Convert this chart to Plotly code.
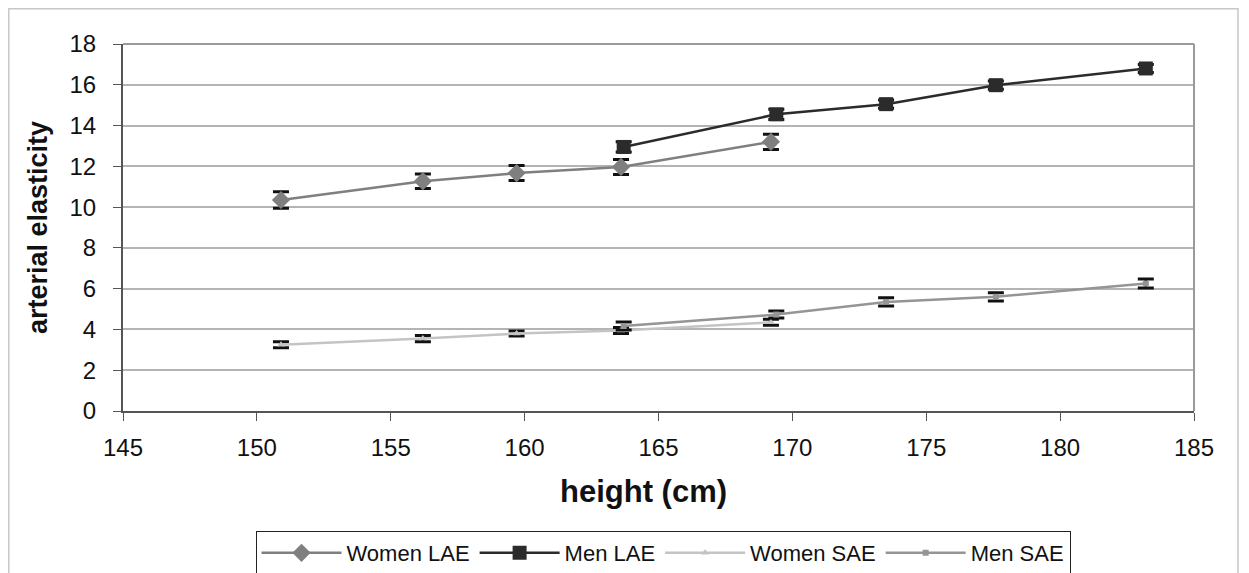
import plotly.graph_objects as go

# ---- data ----
women_h = [150.9, 156.2, 159.7, 163.6, 169.2]
men_h = [163.7, 169.4, 173.5, 177.6, 183.2]

women_lae = [10.35, 11.27, 11.67, 11.97, 13.2]
women_lae_err = [0.4, 0.36, 0.37, 0.37, 0.37]
men_lae = [12.95, 14.55, 15.05, 15.98, 16.8]
men_lae_err = [0.25, 0.25, 0.2, 0.2, 0.2]

women_sae = [3.25, 3.55, 3.8, 3.95, 4.35]
women_sae_err = [0.15, 0.15, 0.12, 0.15, 0.15]
men_sae = [4.17, 4.73, 5.35, 5.6, 6.25]
men_sae_err = [0.2, 0.17, 0.2, 0.2, 0.22]

x_ticks = [145, 150, 155, 160, 165, 170, 175, 180, 185]
y_ticks = [0, 2, 4, 6, 8, 10, 12, 14, 16, 18]

x_title = "height (cm)"
y_title = "arterial elasticity"

FONT = "Liberation Sans, Arial, sans-serif"

# the page has an 8px body margin, so the figure is 8px smaller
W, H = 1241, 565
ML, MR, MT, MB = 115, 55, 36, 162
PW, PH = W - ML - MR, H - MT - MB


def err(arr):
    return dict(type="data", array=arr, visible=True, color="#111111",
                thickness=3, width=8)


fig = go.Figure()
fig.add_trace(go.Scatter(
    x=women_h, y=women_lae, name="Women LAE", mode="lines+markers",
    line=dict(color="#7f7f7f", width=2.5),
    marker=dict(symbol="diamond", size=14, color="#7f7f7f"),
    error_y=err(women_lae_err)))
fig.add_trace(go.Scatter(
    x=men_h, y=men_lae, name="Men LAE", mode="lines+markers",
    line=dict(color="#2b2b2b", width=2.5),
    marker=dict(symbol="square", size=14, color="#2b2b2b"),
    error_y=err(men_lae_err)))
fig.add_trace(go.Scatter(
    x=women_h, y=women_sae, name="Women SAE", mode="lines+markers",
    line=dict(color="#c4c4c4", width=2.5),
    marker=dict(symbol="triangle-up", size=7, color="#c4c4c4"),
    error_y=err(women_sae_err)))
fig.add_trace(go.Scatter(
    x=men_h, y=men_sae, name="Men SAE", mode="lines+markers",
    line=dict(color="#959595", width=2.5),
    marker=dict(symbol="square", size=6, color="#959595"),
    error_y=err(men_sae_err)))

# outer chart frame
fig.add_shape(type="rect", xref="paper", yref="paper",
              x0=(0.8 - ML) / PW, x1=(1230 - ML) / PW,
              y0=-0.48, y1=(MT + PH - 0.8) / PH,
              line=dict(color="#c8c8c8", width=1.5), layer="below")

# x axis title (slightly left of centre, as in the reference)
fig.add_annotation(text="<b>" + x_title + "</b>", xref="paper", yref="paper",
                   x=(635 - ML) / PW, y=(MT + PH - 483) / PH,
                   xanchor="center", yanchor="middle", showarrow=False,
                   font=dict(family=FONT, size=31, color="#111111"))

fig.update_layout(
    width=W, height=H,
    margin=dict(l=ML, r=MR, t=MT, b=MB, autoexpand=False),
    paper_bgcolor="white", plot_bgcolor="white",
    font=dict(family=FONT, size=22, color="#111111"),
    showlegend=True,
    legend=dict(orientation="h", x=(655 - ML) / PW, xanchor="center",
                y=(MT + PH - 523) / PH, yanchor="top",
                bordercolor="#222222", borderwidth=1,
                font=dict(family=FONT, size=22, color="#111111"),
                itemwidth=80, tracegroupgap=0,
                traceorder="normal"),
    xaxis=dict(range=[145, 185], tickvals=x_ticks,
               ticktext=[str(v) for v in x_ticks],
               showgrid=False, zeroline=False, automargin=False,
               showline=True, linecolor="#555555", linewidth=2,
               ticks="outside", ticklen=8, tickcolor="#555555", tickwidth=1,
               tickfont=dict(size=24), ticklabelstandoff=6),
    yaxis=dict(range=[0, 18], tickvals=y_ticks,
               ticktext=[str(v) for v in y_ticks],
               showgrid=True, gridcolor="#b4b4b4", gridwidth=1.5,
               zeroline=False, automargin=False,
               showline=True, linecolor="#555555", linewidth=2,
               ticks="outside", ticklen=8, tickcolor="#555555", tickwidth=1,
               tickfont=dict(size=24), ticklabelstandoff=12,
               title=dict(text="<b>" + y_title + "</b>",
                          font=dict(size=27), standoff=14)),
)

# top and right plot border
fig.add_shape(type="line", xref="paper", yref="paper", x0=0, x1=1, y0=1, y1=1,
              line=dict(color="#9a9a9a", width=2))
fig.add_shape(type="line", xref="paper", yref="paper", x0=1, x1=1, y0=0, y1=1,
              line=dict(color="#9a9a9a", width=2))

fig.write_html("out.html")
